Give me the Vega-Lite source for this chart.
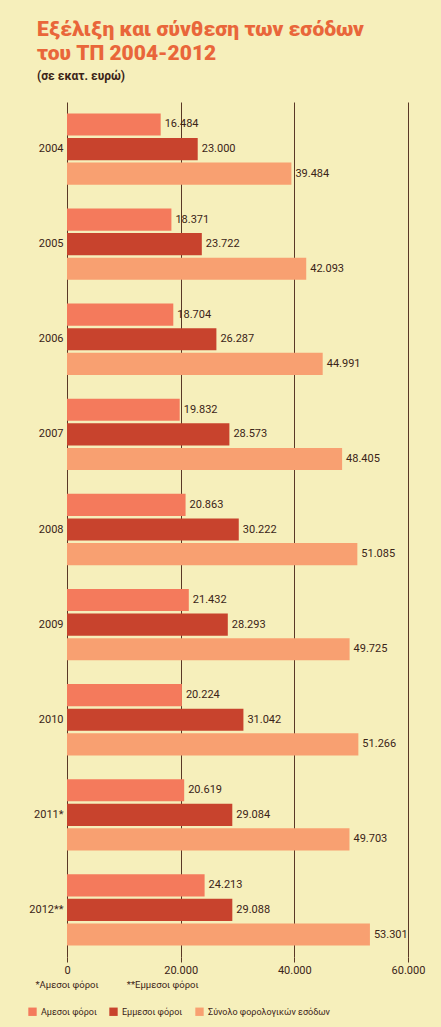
{
  "$schema": "https://vega.github.io/schema/vega-lite/v6.json",
  "autosize": {"type": "none"},
  "padding": {"left": 67, "top": 102, "right": 33, "bottom": 70},
  "width": 341,
  "height": 855,
  "background": "#f6efbb",
  "title": {
    "text": ["Εξέλιξη και σύνθεση των εσόδων", "του ΤΠ 2004-2012"],
    "subtitle": "(σε εκατ. ευρώ)",
    "anchor": "start",
    "frame": "group",
    "dx": -30,
    "offset": 20,
    "font": "Roboto, Liberation Sans, sans-serif",
    "fontSize": 21,
    "fontWeight": 900,
    "color": "#e9663a",
    "lineHeight": 24,
    "subtitleFont": "Roboto, Liberation Sans, sans-serif",
    "subtitleFontSize": 12,
    "subtitleFontWeight": "bold",
    "subtitleColor": "#3b2418",
    "subtitlePadding": 7
  },
  "config": {
    "locale": {"number": {"decimal": ",", "thousands": ".", "grouping": [3], "currency": ["", " €"]}},
    "view": {"stroke": null},
    "font": "Roboto, Liberation Sans, sans-serif",
    "axis": {"labelFont": "Roboto, Liberation Sans, sans-serif", "labelColor": "#3b2418", "titleColor": "#3b2418"}
  },
  "data": {
    "values": [
      {"year": "2004", "type": "Αμεσοι φόροι", "value": 16484},
      {"year": "2004", "type": "Εμμεσοι φόροι", "value": 23000},
      {"year": "2004", "type": "Σύνολο φορολογικών εσόδων", "value": 39484},
      {"year": "2005", "type": "Αμεσοι φόροι", "value": 18371},
      {"year": "2005", "type": "Εμμεσοι φόροι", "value": 23722},
      {"year": "2005", "type": "Σύνολο φορολογικών εσόδων", "value": 42093},
      {"year": "2006", "type": "Αμεσοι φόροι", "value": 18704},
      {"year": "2006", "type": "Εμμεσοι φόροι", "value": 26287},
      {"year": "2006", "type": "Σύνολο φορολογικών εσόδων", "value": 44991},
      {"year": "2007", "type": "Αμεσοι φόροι", "value": 19832},
      {"year": "2007", "type": "Εμμεσοι φόροι", "value": 28573},
      {"year": "2007", "type": "Σύνολο φορολογικών εσόδων", "value": 48405},
      {"year": "2008", "type": "Αμεσοι φόροι", "value": 20863},
      {"year": "2008", "type": "Εμμεσοι φόροι", "value": 30222},
      {"year": "2008", "type": "Σύνολο φορολογικών εσόδων", "value": 51085},
      {"year": "2009", "type": "Αμεσοι φόροι", "value": 21432},
      {"year": "2009", "type": "Εμμεσοι φόροι", "value": 28293},
      {"year": "2009", "type": "Σύνολο φορολογικών εσόδων", "value": 49725},
      {"year": "2010", "type": "Αμεσοι φόροι", "value": 20224},
      {"year": "2010", "type": "Εμμεσοι φόροι", "value": 31042},
      {"year": "2010", "type": "Σύνολο φορολογικών εσόδων", "value": 51266},
      {"year": "2011*", "type": "Αμεσοι φόροι", "value": 20619},
      {"year": "2011*", "type": "Εμμεσοι φόροι", "value": 29084},
      {"year": "2011*", "type": "Σύνολο φορολογικών εσόδων", "value": 49703},
      {"year": "2012**", "type": "Αμεσοι φόροι", "value": 24213},
      {"year": "2012**", "type": "Εμμεσοι φόροι", "value": 29088},
      {"year": "2012**", "type": "Σύνολο φορολογικών εσόδων", "value": 53301}
    ]
  },
  "encoding": {
    "y": {
      "field": "year", "type": "nominal", "sort": null,
      "scale": {"paddingInner": 0.25, "paddingOuter": 0.12},
      "axis": {"title": null, "ticks": false, "domain": false, "labelFontSize": 11, "labelPadding": 4}
    },
    "yOffset": {
      "field": "type", "type": "nominal",
      "sort": ["Αμεσοι φόροι", "Εμμεσοι φόροι", "Σύνολο φορολογικών εσόδων"],
      "scale": {"paddingInner": 0.1}
    },
    "x": {
      "field": "value", "type": "quantitative",
      "scale": {"domain": [0, 60000], "nice": false},
      "axis": {
        "values": [0, 20000, 40000, 60000],
        "format": ",d",
        "domain": false,
        "grid": true,
        "gridColor": "#5a3826",
        "gridWidth": 1,
        "gridOpacity": 1,
        "tickColor": "#5a3826",
        "tickSize": 5,
        "labelFontSize": 11,
        "labelPadding": 2,
        "labelFlush": false,
        "title": "*Αμεσοι φόροι\u00a0\u00a0\u00a0\u00a0\u00a0\u00a0\u00a0\u00a0\u00a0\u00a0\u00a0\u00a0**Εμμεσοι φόροι",
        "titleFont": "Roboto, Liberation Sans, sans-serif",
        "titleFontSize": 9.5,
        "titleFontWeight": "normal",
        "titleAnchor": "start",
        "titleAlign": "left",
        "titleBaseline": "alphabetic",
        "titleX": -32,
        "titleY": 30
      }
    }
  },
  "layer": [
    {
      "mark": {"type": "bar"},
      "encoding": {
        "color": {
          "field": "type", "type": "nominal",
          "scale": {
            "domain": ["Αμεσοι φόροι", "Εμμεσοι φόροι", "Σύνολο φορολογικών εσόδων"],
            "range": ["#f47a5c", "#c8432d", "#f8a071"]
          },
          "legend": {
            "title": null,
            "orient": "none",
            "direction": "horizontal",
            "legendX": -39,
            "legendY": 905,
            "symbolType": "square",
            "symbolSize": 70,
            "symbolStrokeWidth": 0,
            "symbolOpacity": 1,
            "labelFontSize": 9,
            "labelColor": "#3b2418",
            "labelFont": "Roboto, Liberation Sans, sans-serif",
            "columnPadding": 12,
            "labelOffset": 4
          }
        }
      }
    },
    {
      "mark": {"type": "text", "align": "left", "baseline": "middle", "dx": 4, "fontSize": 11, "color": "#3b2418"},
      "encoding": {
        "text": {"field": "value", "type": "quantitative", "format": ",d"}
      }
    }
  ]
}
